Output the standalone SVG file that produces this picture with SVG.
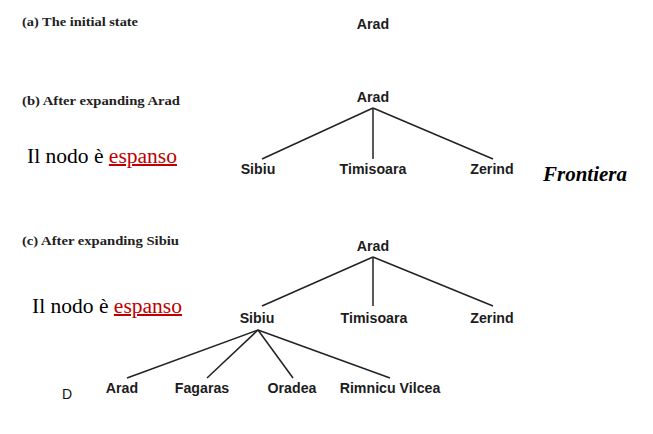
<svg xmlns="http://www.w3.org/2000/svg" width="653" height="434" viewBox="0 0 653 434">
<style>
.hd{font-family:"Liberation Serif",serif;font-weight:bold;font-size:13px;fill:#222}
.lb{font-family:"Liberation Sans",Arial,sans-serif;font-weight:bold;font-size:14.2px;fill:#1c1c1c;text-anchor:middle}
.nt{font-family:"Liberation Serif",serif;font-size:20px;fill:#000}
.red{fill:#c00000;text-decoration:underline}
.fr{font-family:"Liberation Serif",serif;font-weight:bold;font-style:italic;font-size:20px;fill:#000}
.ed{stroke:#222;stroke-width:1.5;fill:none}
</style>
<rect width="653" height="434" fill="#fff"/>
<text class="hd" x="22" y="26" textLength="116" lengthAdjust="spacingAndGlyphs">(a) The initial state</text>
<text class="hd" x="22" y="105" textLength="158" lengthAdjust="spacingAndGlyphs">(b) After expanding Arad</text>
<text class="hd" x="22" y="245" textLength="157" lengthAdjust="spacingAndGlyphs">(c) After expanding Sibiu</text>
<text class="nt" x="27" y="163" textLength="150" lengthAdjust="spacingAndGlyphs">Il nodo è <tspan class="red">espanso</tspan></text>
<text class="nt" x="32" y="313" textLength="150" lengthAdjust="spacingAndGlyphs">Il nodo è <tspan class="red">espanso</tspan></text>
<text class="fr" x="543" y="181" textLength="84" lengthAdjust="spacingAndGlyphs">Frontiera</text>
<text x="62" y="399" style="font-family:'Liberation Sans',sans-serif;font-size:14px;fill:#111">D</text>
<g id="connectors">
<line class="ed" x1="373" y1="108" x2="262" y2="159"/>
<line class="ed" x1="373" y1="108" x2="373" y2="159"/>
<line class="ed" x1="373" y1="108" x2="493" y2="159"/>
<line class="ed" x1="373" y1="257" x2="262" y2="306"/>
<line class="ed" x1="373" y1="257" x2="373" y2="306"/>
<line class="ed" x1="373" y1="257" x2="493" y2="306"/>
<line class="ed" x1="258" y1="330" x2="127" y2="378"/>
<line class="ed" x1="258" y1="330" x2="207" y2="378"/>
<line class="ed" x1="258" y1="330" x2="293" y2="378"/>
<line class="ed" x1="258" y1="330" x2="390" y2="378"/>
</g>
<g id="a-arad"><text class="lb" x="373" y="29">Arad</text></g>
<g id="b-arad"><text class="lb" x="373" y="102">Arad</text></g>
<g id="b-sibiu"><text class="lb" x="258" y="174">Sibiu</text></g>
<g id="b-timisoara"><text class="lb" x="373" y="174">Timisoara</text></g>
<g id="b-zerind"><text class="lb" x="492" y="174">Zerind</text></g>
<g id="c-arad"><text class="lb" x="373" y="251">Arad</text></g>
<g id="c-sibiu"><text class="lb" x="257" y="323">Sibiu</text></g>
<g id="c-timisoara"><text class="lb" x="374" y="323">Timisoara</text></g>
<g id="c-zerind"><text class="lb" x="492" y="323">Zerind</text></g>
<g id="c-arad2"><text class="lb" x="122" y="393">Arad</text></g>
<g id="c-fagaras"><text class="lb" x="202" y="393">Fagaras</text></g>
<g id="c-oradea"><text class="lb" x="292" y="393">Oradea</text></g>
<g id="c-rimnicu"><text class="lb" x="390" y="393">Rimnicu Vilcea</text></g>
</svg>
